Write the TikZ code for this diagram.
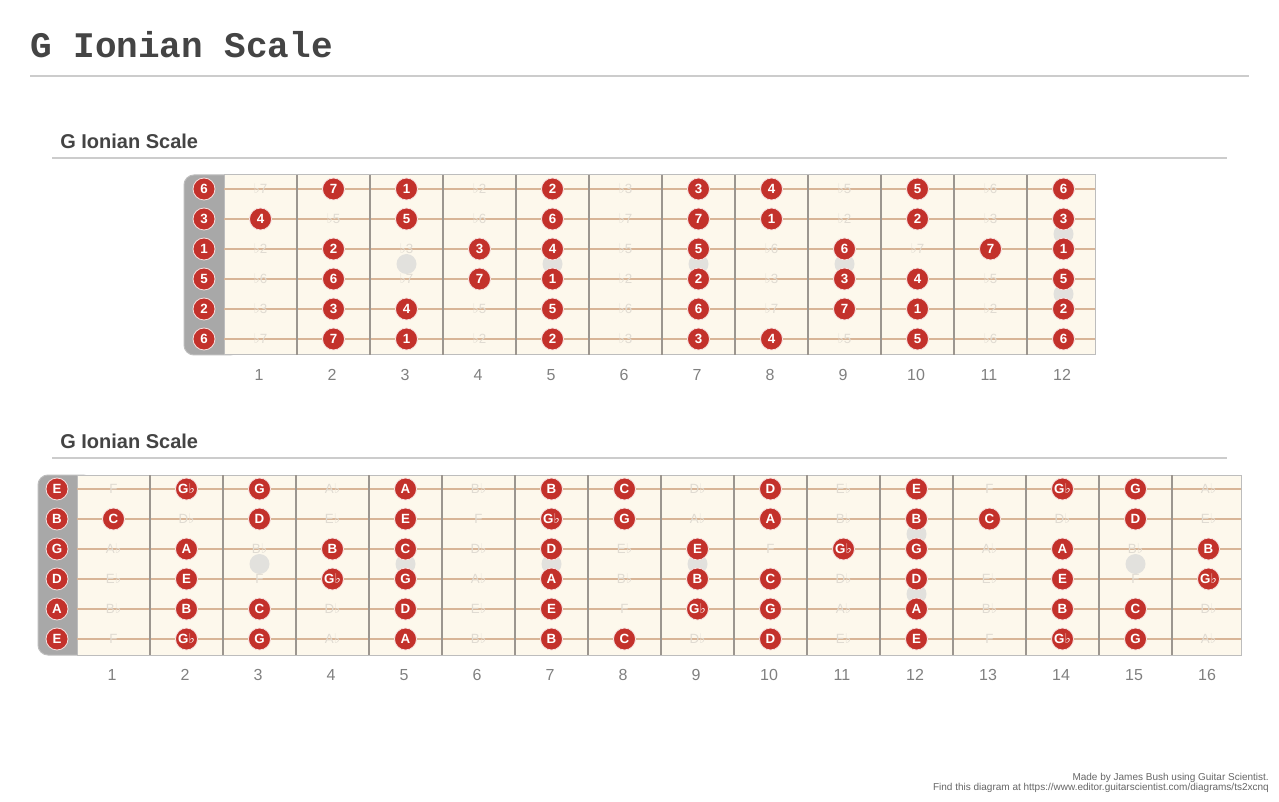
\documentclass[tikz,border=0pt]{standalone}
\usepackage{fontspec}
\setmainfont{Liberation Sans}
\newfontfamily\titlefont{Liberation Mono}
\newfontfamily\symfont{DejaVu Sans}
\usetikzlibrary{calc}

\definecolor{notered}{HTML}{C3312B}
\definecolor{boardbg}{HTML}{FDF8EC}
\definecolor{stringcol}{HTML}{D8B597}
\definecolor{fretcol}{HTML}{9C968F}
\definecolor{nutcol}{HTML}{A8A8A8}
\definecolor{ghostcol}{HTML}{E0DBD2}
\definecolor{inlaycol}{HTML}{E2E1DD}
\definecolor{rulecol}{HTML}{CCCCCC}
\definecolor{bordercol}{HTML}{BDBDBD}
\definecolor{headcol}{HTML}{444444}

\newcommand\flt{{\symfont ♭}}
% degree and note names, indexed by semitone
\newcommand\degname[1]{\ifcase#1 1\or\flt2\or 2\or\flt3\or 3\or 4\or\flt5\or 5\or\flt6\or 6\or\flt7\or 7\fi}
\newcommand\notename[1]{\ifcase#1 C\or D\flt\or D\or E\flt\or E\or F\or G\flt\or G\or A\flt\or A\or B\flt\or B\fi}
\newcommand\indeg[1]{\ifcase#1 1\or0\or1\or0\or1\or1\or0\or1\or0\or1\or0\or1\fi}
\newcommand\inkey[1]{\ifcase#1 1\or0\or1\or0\or1\or0\or1\or1\or0\or1\or0\or1\fi}

\tikzset{
  note/.style={circle, fill=notered, draw=white!85!notered, line width=0.6pt,
    minimum size=16.5pt, inner sep=0pt, text=white,
    font=\bfseries\fontsize{10}{10}\selectfont},
  ghost/.style={inner sep=0pt, text=ghostcol, font=\fontsize{10}{10}\selectfont},
  fretnum/.style={inner sep=0pt, text=black!50, font=\fontsize{12}{12}\selectfont},
  heading/.style={anchor=base west, inner sep=0pt, text=headcol,
    font=\bfseries\fontsize{15}{15}\selectfont},
  footer/.style={anchor=base east, inner sep=0pt, text=black!60,
    font=\fontsize{7.5}{7.5}\selectfont},
  inlay/.style={fill=inlaycol},
  strg/.style={stringcol, line width=1.3pt},
  fretline/.style={fretcol, line width=1.9pt},
  hrule/.style={rulecol, line width=1.5pt}
}

\begin{document}
\begin{tikzpicture}[x=0.75pt,y=-0.75pt]

\useasboundingbox (0,0) rectangle (1279,802);
\fill[white] (0,0) rectangle (1279,802);

% title
\node[anchor=base west, inner sep=0pt, text=headcol,
  font=\titlefont\bfseries\fontsize{27}{27}\selectfont] (title) at (30,58) {G Ionian Scale};
\draw[hrule] (30,76) -- (1249,76);

%%%% first board: scale degrees
\node[heading] (head1) at (60,149) {G Ionian Scale};
\draw[hrule] (52,158) -- (1227,158);

\filldraw[fill=nutcol, draw=bordercol, line width=0.75pt, rounded corners=7.5pt] (184,175) rectangle (240,355);
\filldraw[fill=boardbg, draw=bordercol, line width=0.75pt] (224,175) rectangle (1095,355);

\foreach \f/\y in {3/264,5/264,7/264,9/264,12/234,12/294}
  \fill[inlay] (224+73*\f-36.5,\y) circle (7.5pt);
\foreach \y in {189,219,...,339}
  \draw[strg] (224,\y) -- (1095,\y);
\foreach \f in {1,...,11}
  \draw[fretline] (224+73*\f,175) -- (224+73*\f,355);

\foreach \o [count=\r] in {9,4,0,7,2,9} {
  \pgfmathsetmacro\yy{189+30*(\r-1)}
  \foreach \f in {0,...,12} {
    \pgfmathtruncatemacro\pos{mod(\o+\f,12)}
    \pgfmathsetmacro\xx{\f==0 ? 204 : 224+73*(\f-0.5)}
    \ifnum\indeg{\pos}=1
      \node[note] (a-\r-\f) at (\xx,\yy) {\degname{\pos}};
    \else
      \node[ghost] (a-\r-\f) at (\xx,\yy) {\degname{\pos}};
    \fi
  }
}
\foreach \f in {1,...,12}
  \node[fretnum] (an-\f) at (224+73*\f-38,375) {\f};

%%%% second board: note names
\node[heading] (head2) at (60,449) {G Ionian Scale};
\draw[hrule] (52,458) -- (1227,458);

\filldraw[fill=nutcol, draw=bordercol, line width=0.75pt, rounded corners=7.5pt] (38,475) rectangle (93,655);
\filldraw[fill=boardbg, draw=bordercol, line width=0.75pt] (77,475) rectangle (1241,655);

\foreach \f/\y in {3/564,5/564,7/564,9/564,12/534,12/594,15/564}
  \fill[inlay] (77+73*\f-36.5,\y) circle (7.5pt);
\foreach \y in {489,519,...,639}
  \draw[strg] (77,\y) -- (1241,\y);
\foreach \f in {1,...,15}
  \draw[fretline] (77+73*\f,475) -- (77+73*\f,655);

\foreach \o [count=\r] in {4,11,7,2,9,4} {
  \pgfmathsetmacro\yy{489+30*(\r-1)}
  \foreach \f in {0,...,16} {
    \pgfmathtruncatemacro\pos{mod(\o+\f,12)}
    \pgfmathsetmacro\xx{\f==0 ? 57 : 77+73*(\f-0.5)}
    \ifnum\inkey{\pos}=1
      \node[note] (b-\r-\f) at (\xx,\yy) {\notename{\pos}};
    \else
      \node[ghost] (b-\r-\f) at (\xx,\yy) {\notename{\pos}};
    \fi
  }
}
\foreach \f in {1,...,16}
  \node[fretnum] (bn-\f) at (77+73*\f-38,675) {\f};

% footer
\node[footer] (foot1) at (1269,780) {Made by James Bush using Guitar Scientist.};
\node[footer] (foot2) at (1269,790) {Find this diagram at https://www.editor.guitarscientist.com/diagrams/ts2xcnq};

\end{tikzpicture}
\end{document}
